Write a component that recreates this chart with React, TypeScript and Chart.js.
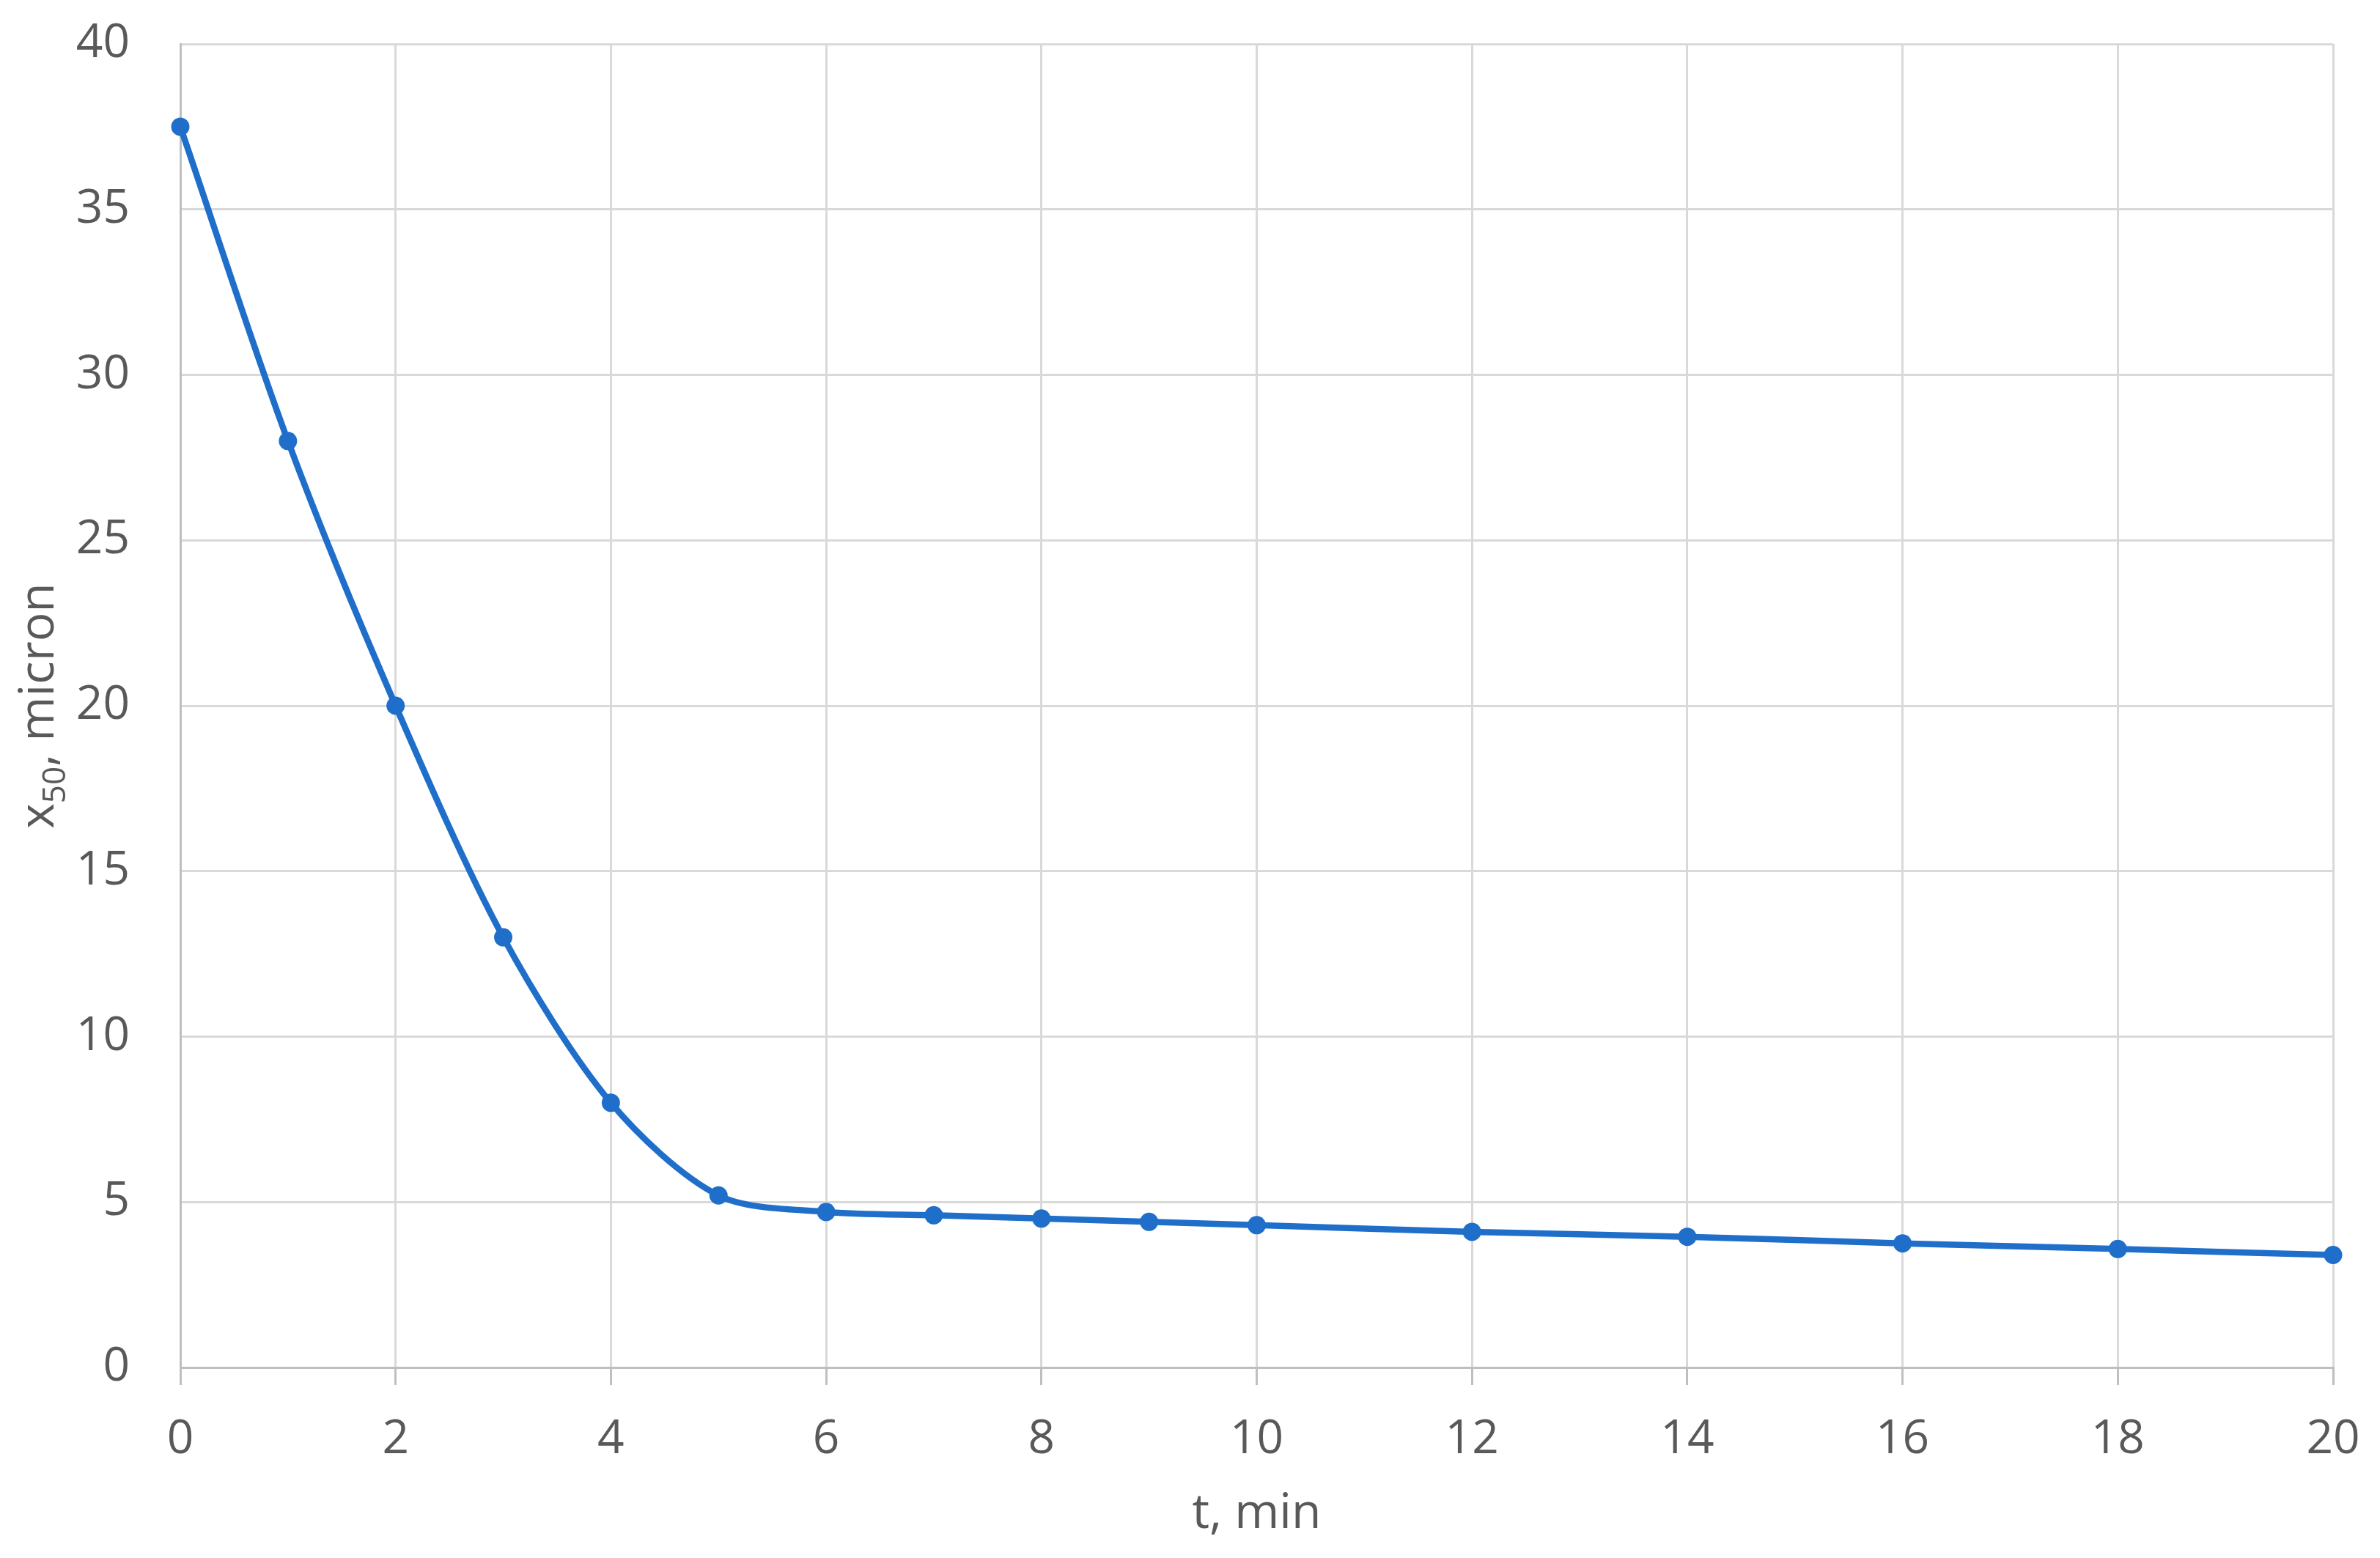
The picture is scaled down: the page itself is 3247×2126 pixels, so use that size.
import React, { useEffect, useRef } from "react";
import { Chart, registerables } from "chart.js";

Chart.register(...registerables);

const timeMin = [0, 1, 2, 3, 4, 5, 6, 7, 8, 9, 10, 12, 14, 16, 18, 20];
const x50Micron = [37.5, 28.0, 20.0, 13.0, 8.0, 5.2, 4.7, 4.6, 4.5, 4.4, 4.3, 4.1, 3.95, 3.75, 3.58, 3.4];
const xTickValues = [0, 2, 4, 6, 8, 10, 12, 14, 16, 18, 20];
const yTickValues = [0, 5, 10, 15, 20, 25, 30, 35, 40];
const xTitle = "t, min";
const yTitleMain = "x";
const yTitleSub = "50";
const yTitleRest = ", micron";

const FONT = "'Open Sans', 'Noto Sans', sans-serif";
const TEXT = "#595959";
const LINE = "#1F6FCA";

const yTitlePlugin = {
  id: "yTitleSub",
  afterDraw(chart: any) {
    const { ctx, chartArea } = chart;
    const cy = (chartArea.top + chartArea.bottom) / 2;
    const baseX = 73;
    const mainFont = `66px ${FONT}`;
    const subFont = `44px ${FONT}`;
    ctx.save();
    ctx.fillStyle = TEXT;
    ctx.textBaseline = "alphabetic";
    ctx.textAlign = "left";
    ctx.font = mainFont;
    const w1 = ctx.measureText(yTitleMain).width;
    const w3 = ctx.measureText(yTitleRest).width;
    ctx.font = subFont;
    const w2 = ctx.measureText(yTitleSub).width;
    const total = w1 + w2 + w3;
    ctx.translate(baseX, cy);
    ctx.rotate(-Math.PI / 2);
    let x = -total / 2;
    ctx.font = mainFont;
    ctx.fillText(yTitleMain, x, 0);
    x += w1;
    ctx.font = subFont;
    ctx.fillText(yTitleSub, x, 16);
    x += w2;
    ctx.font = mainFont;
    ctx.fillText(yTitleRest, x, 0);
    ctx.restore();
  },
};

export default function App() {
  const ref = useRef<HTMLCanvasElement | null>(null);
  useEffect(() => {
    if (!ref.current) return;
    const chart = new Chart(ref.current, {
      type: "line",
      data: {
        datasets: [
          {
            data: timeMin.map((t, i) => ({ x: t, y: x50Micron[i] })),
            borderColor: LINE,
            backgroundColor: LINE,
            borderWidth: 8.5,
            pointRadius: 12.5,
            pointHoverRadius: 12.5,
            pointBackgroundColor: LINE,
            pointBorderColor: LINE,
            pointBorderWidth: 0,
            tension: 0.3,
            fill: false,
            clip: false,
          },
        ],
      },
      options: {
        animation: false,
        responsive: true,
        maintainAspectRatio: false,
        devicePixelRatio: 1,
        layout: { padding: { left: 0, top: 60, right: 64, bottom: 0 } },
        plugins: {
          legend: { display: false },
          tooltip: { enabled: false },
          title: { display: false },
        },
        scales: {
          x: {
            type: "linear",
            min: 0,
            max: 20,
            afterBuildTicks: (scale: any) => {
              scale.ticks = xTickValues.map((v) => ({ value: v }));
            },
            afterFit: (scale: any) => {
              scale.height = 260;
              scale.paddingLeft = 0;
              scale.paddingRight = 0;
            },
            grid: {
              color: "#D9D9D9",
              lineWidth: 3,
              drawTicks: true,
              tickLength: 24,
              tickColor: "#BFBFBF",
            },
            border: { color: "#BFBFBF", width: 3 },
            ticks: {
              color: TEXT,
              font: { family: FONT, size: 64 },
              padding: 36,
              maxRotation: 0,
              autoSkip: false,
            },
            title: {
              display: true,
              text: xTitle,
              color: TEXT,
              font: { family: FONT, size: 66 },
              padding: { top: 0, bottom: 20 },
            },
          },
          y: {
            type: "linear",
            min: 0,
            max: 40,
            afterBuildTicks: (scale: any) => {
              scale.ticks = yTickValues.map((v) => ({ value: v }));
            },
            afterFit: (scale: any) => {
              scale.width = 246;
              scale.paddingTop = 0;
              scale.paddingBottom = 0;
            },
            grid: {
              color: "#D9D9D9",
              lineWidth: 3,
              drawTicks: false,
            },
            border: { color: "#BFBFBF", width: 3 },
            ticks: {
              color: TEXT,
              font: { family: FONT, size: 64 },
              padding: 69,
              autoSkip: false,
            },
          },
        },
      },
      plugins: [yTitlePlugin],
    } as any);
    return () => chart.destroy();
  }, []);
  return (
    <div
      style={{
        position: "fixed",
        left: 0,
        top: 0,
        width: 3247,
        height: 2126,
        background: "#ffffff",
      }}
    >
      <canvas ref={ref} />
    </div>
  );
}
